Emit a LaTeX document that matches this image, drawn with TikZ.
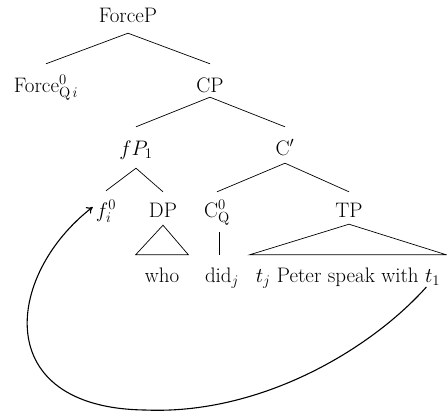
\documentclass[tikz,border=0pt]{standalone}
\usepackage{fix-cm}
\usepackage{fontspec}
\usetikzlibrary{arrows.meta,calc}
\begin{document}
\begin{tikzpicture}[x=1pt,y=-1pt,
  lbl/.style={anchor=base,inner xsep=3pt,inner ysep=3pt,font=\fontsize{21}{25}\selectfont},
  branch/.style={line width=0.7pt},
  move/.style={line width=1.1pt,-{To[length=6pt,width=8pt]}}]
\useasboundingbox (0,0) rectangle (447,416);
% level 0
\node[lbl,text depth=7.5pt] (forcep) at (128,22.5) {ForceP};
% level 1
\node[lbl,text height=25pt] (force) at (46,92) {Force$^{0}_{\mathrm{Q}\,i}$};
\node[lbl,text height=25pt,text depth=2pt] (cp) at (210,92) {CP};
% level 2
\node[lbl,text height=25pt,text depth=10pt] (fp) at (136,155) {$fP_1$};
\node[lbl,text height=25pt,text depth=5pt] (cbar) at (285,155) {C$'$};
% level 3
\node[lbl,text height=23pt,text depth=3pt] (f0) at (106,217) {$f^0_i$};
\node[lbl,text height=22pt,text depth=5pt] (dp) at (163,217) {DP};
\node[lbl,text height=22pt,text depth=12pt] (c0) at (217,217) {C$^0_{\mathrm{Q}}$};
\node[lbl,text height=22pt,text depth=4pt] (tp) at (349,217) {TP};
% leaves
\node[lbl,text height=24pt,inner xsep=9pt] (who) at (162,282) {who};
\node[lbl,text height=24pt] (did) at (222,282) {did$_j$};
\node[lbl,text height=24pt,inner xsep=6pt] (tpleaf) at (348,282) {$t_j$ Peter speak with $t_1$};
\coordinate (t1) at ($(tpleaf.base east)+(-20,5)$);
% branches
\draw[branch] (forcep.south) -- (force.north);
\draw[branch] (forcep.south) -- (cp.north);
\draw[branch] (cp.south) -- (fp.north);
\draw[branch] (cp.south) -- (cbar.north);
\draw[branch] (fp.south) -- (f0.north);
\draw[branch] (fp.south) -- (dp.north);
\draw[branch] (cbar.south) -- (c0.north);
\draw[branch] (cbar.south) -- (tp.north);
\draw[branch] (dp.south) -- (who.north west) -- (who.north east) -- cycle;
\draw[branch] ([xshift=2pt]c0.south) -- ([xshift=2pt]c0.south |- did.north);
\draw[branch] (tp.south) -- (tpleaf.north west) -- (tpleaf.north east) -- cycle;
% movement arrow
\draw[move] (t1) .. controls (370,350) and (260,415) .. (145,410)
  .. controls (-10,408) and (5,275) .. (f0.west);
\end{tikzpicture}
\end{document}
